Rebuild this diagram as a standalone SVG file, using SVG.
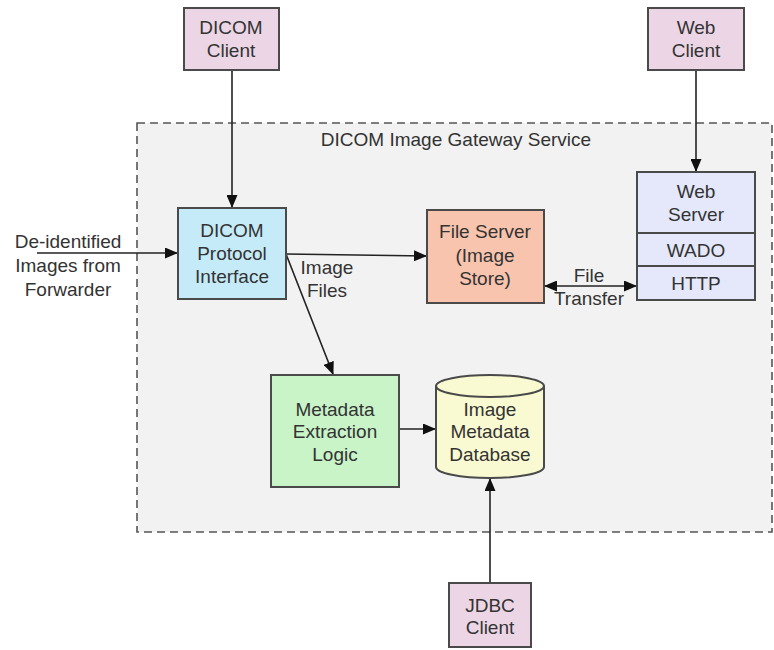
<svg xmlns="http://www.w3.org/2000/svg" width="774" height="650" viewBox="0 0 774 650">
<defs>
<style>
.box{stroke:#4a4a4a;stroke-width:2}
.t{font-family:"Liberation Sans",Arial,sans-serif;font-size:19px;fill:#333;text-anchor:middle}
.ln{stroke:#222;stroke-width:1.6;fill:none}
</style>
<marker id="ah" viewBox="0 0 13 11" refX="12" refY="5.5" markerWidth="13" markerHeight="11" markerUnits="userSpaceOnUse" orient="auto-start-reverse">
<path d="M0,0 L13,5.5 L0,11 z" fill="#111"/>
</marker>
</defs>
<rect width="774" height="650" fill="#fff"/>
<g id="container">
<rect x="137" y="123" width="635" height="409" fill="#f2f2f2" stroke="#555" stroke-width="1.6" stroke-dasharray="8,5"/>
<text class="t" x="456" y="146">DICOM Image Gateway Service</text>
</g>
<g id="connectors">
<line class="ln" x1="232" y1="70" x2="232" y2="207" marker-end="url(#ah)"/>
<line class="ln" x1="696" y1="70" x2="696" y2="171" marker-end="url(#ah)"/>
<line class="ln" x1="37" y1="253" x2="177" y2="253" marker-end="url(#ah)"/>
<line class="ln" x1="286" y1="254" x2="426" y2="256" marker-end="url(#ah)"/>
<line class="ln" x1="286" y1="254" x2="333" y2="374" marker-end="url(#ah)"/>
<line class="ln" x1="545" y1="286" x2="636" y2="286" marker-start="url(#ah)" marker-end="url(#ah)"/>
<line class="ln" x1="399" y1="429" x2="435" y2="429" marker-end="url(#ah)"/>
<line class="ln" x1="490" y1="583" x2="490" y2="479" marker-end="url(#ah)"/>
<text class="t" x="68" y="248">De-identified</text>
<text class="t" x="68" y="272">Images from</text>
<text class="t" x="68" y="296">Forwarder</text>
<text class="t" x="327" y="274">Image</text>
<text class="t" x="327" y="297">Files</text>
<text class="t" x="589" y="282">File</text>
<text class="t" x="589" y="305">Transfer</text>
</g>
<g id="dicom-client">
<rect class="box" x="184" y="8" width="95" height="62" fill="#ecd6e6"/>
<text class="t" x="231" y="34">DICOM</text>
<text class="t" x="231" y="57">Client</text>
</g>
<g id="web-client">
<rect class="box" x="648" y="8" width="96" height="62" fill="#ecd6e6"/>
<text class="t" x="696" y="34">Web</text>
<text class="t" x="696" y="57">Client</text>
</g>
<g id="dicom-protocol">
<rect class="box" x="178" y="208" width="108" height="91" fill="#c6ebf8"/>
<text class="t" x="232" y="237">DICOM</text>
<text class="t" x="232" y="260">Protocol</text>
<text class="t" x="232" y="283">Interface</text>
</g>
<g id="file-server">
<rect class="box" x="427" y="210" width="117" height="93" fill="#f8c4ad"/>
<text class="t" x="485" y="238">File Server</text>
<text class="t" x="485" y="262">(Image</text>
<text class="t" x="485" y="285">Store)</text>
</g>
<g id="web-server">
<rect class="box" x="637" y="172" width="118" height="128" fill="#e4e8fa"/>
<line class="box" x1="637" y1="233" x2="755" y2="233"/>
<line class="box" x1="637" y1="266" x2="755" y2="266"/>
<text class="t" x="696" y="198">Web</text>
<text class="t" x="696" y="221">Server</text>
<text class="t" x="696" y="257">WADO</text>
<text class="t" x="696" y="290">HTTP</text>
</g>
<g id="metadata-extraction">
<rect class="box" x="271" y="375" width="128" height="112" fill="#c8f4c8"/>
<text class="t" x="335" y="416">Metadata</text>
<text class="t" x="335" y="438">Extraction</text>
<text class="t" x="335" y="461">Logic</text>
</g>
<g id="database">
<path class="box" d="M436,386 L436,467 A54,11 0 0 0 544,467 L544,386 A54,11 0 0 0 436,386 Z" fill="#fafad2"/>
<path class="box" d="M436,386 A54,11 0 0 0 544,386" fill="none"/>
<text class="t" x="490" y="416">Image</text>
<text class="t" x="490" y="438">Metadata</text>
<text class="t" x="490" y="461">Database</text>
</g>
<g id="jdbc-client">
<rect class="box" x="449" y="583" width="82" height="64" fill="#ecd6e6"/>
<text class="t" x="490" y="612">JDBC</text>
<text class="t" x="490" y="634">Client</text>
</g>
</svg>
